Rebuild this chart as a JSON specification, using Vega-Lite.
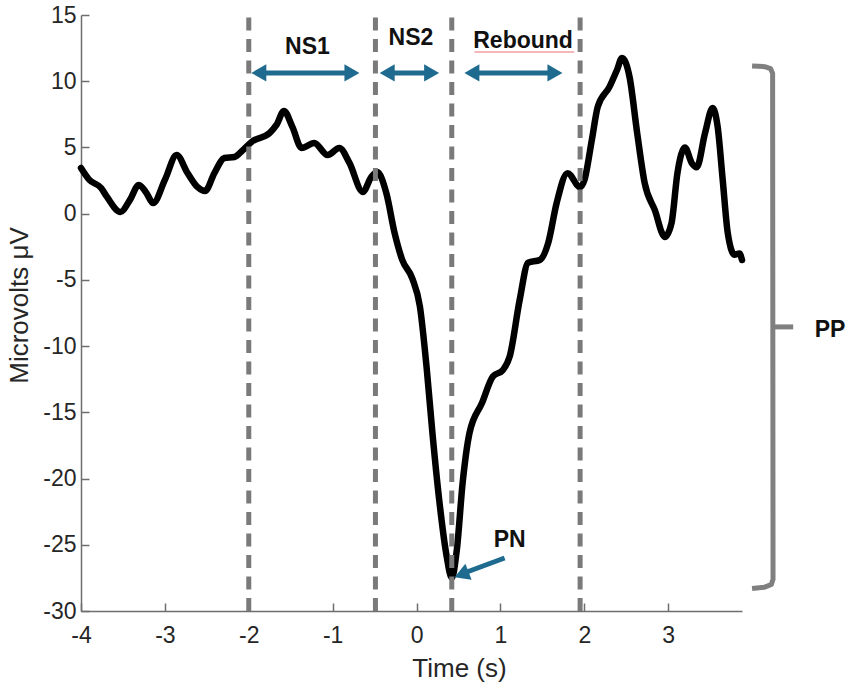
{
  "$schema": "https://vega.github.io/schema/vega-lite/v6.json",
  "width": 661,
  "height": 596,
  "autosize": "none",
  "padding": {"left": 81, "top": 15, "right": 108, "bottom": 80},
  "background": "white",
  "config": {"view": {"stroke": null}, "font": "Liberation Sans"},
  "datasets": {
    "curve": [
      {"x": -4.0, "y": 3.45}, {"x": -3.9, "y": 2.55}, {"x": -3.76, "y": 1.94}, {"x": -3.69, "y": 1.26},
      {"x": -3.53, "y": 0.13}, {"x": -3.42, "y": 1.0}, {"x": -3.31, "y": 2.17}, {"x": -3.22, "y": 1.56},
      {"x": -3.14, "y": 0.8}, {"x": -3.0, "y": 2.55}, {"x": -2.86, "y": 4.43}, {"x": -2.73, "y": 3.07},
      {"x": -2.61, "y": 2.0}, {"x": -2.52, "y": 1.71}, {"x": -2.41, "y": 3.07}, {"x": -2.29, "y": 4.2},
      {"x": -2.17, "y": 4.28}, {"x": -2.07, "y": 4.8}, {"x": -1.96, "y": 5.45}, {"x": -1.75, "y": 6.1},
      {"x": -1.67, "y": 6.7}, {"x": -1.58, "y": 7.75}, {"x": -1.48, "y": 6.55}, {"x": -1.37, "y": 4.96},
      {"x": -1.22, "y": 5.34}, {"x": -1.06, "y": 4.43}, {"x": -0.92, "y": 4.96}, {"x": -0.8, "y": 3.83},
      {"x": -0.64, "y": 1.64}, {"x": -0.54, "y": 2.77}, {"x": -0.47, "y": 3.15}, {"x": -0.36, "y": 1.55},
      {"x": -0.26, "y": -1.5}, {"x": -0.17, "y": -3.5}, {"x": -0.05, "y": -4.9}, {"x": 0.04, "y": -7.0},
      {"x": 0.12, "y": -11.6}, {"x": 0.19, "y": -16.6}, {"x": 0.27, "y": -21.6}, {"x": 0.36, "y": -25.9},
      {"x": 0.42, "y": -27.5}, {"x": 0.48, "y": -25.4}, {"x": 0.55, "y": -20.3}, {"x": 0.63, "y": -16.6},
      {"x": 0.78, "y": -14.3}, {"x": 0.91, "y": -12.3}, {"x": 1.03, "y": -11.8}, {"x": 1.11, "y": -10.8},
      {"x": 1.23, "y": -6.5}, {"x": 1.33, "y": -3.7}, {"x": 1.47, "y": -3.5}, {"x": 1.57, "y": -2.2},
      {"x": 1.67, "y": 0.8}, {"x": 1.8, "y": 3.06}, {"x": 1.95, "y": 2.0}, {"x": 2.0, "y": 2.5},
      {"x": 2.09, "y": 5.57}, {"x": 2.16, "y": 8.06}, {"x": 2.3, "y": 9.57}, {"x": 2.39, "y": 10.85},
      {"x": 2.45, "y": 11.76}, {"x": 2.54, "y": 10.3}, {"x": 2.63, "y": 6.1}, {"x": 2.72, "y": 2.3},
      {"x": 2.84, "y": 0.28}, {"x": 2.96, "y": -1.76}, {"x": 3.04, "y": -0.7}, {"x": 3.11, "y": 3.06},
      {"x": 3.2, "y": 5.0}, {"x": 3.28, "y": 3.83}, {"x": 3.34, "y": 3.5}, {"x": 3.44, "y": 6.1},
      {"x": 3.53, "y": 7.98}, {"x": 3.59, "y": 6.55}, {"x": 3.65, "y": 2.55}, {"x": 3.71, "y": -1.45},
      {"x": 3.79, "y": -3.1}, {"x": 3.85, "y": -3.0}, {"x": 3.88, "y": -3.5}
    ],
    "vlines": [
      {"x": -2.0, "y": -30, "y2": 15.4},
      {"x": -0.49, "y": -30, "y2": 15.4},
      {"x": 0.42, "y": -30, "y2": 15.4},
      {"x": 1.95, "y": -30, "y2": 15.4}
    ],
    "shafts": [
      {"x": -1.89, "x2": -0.76, "y": 10.63, "y2": 10.63},
      {"x": -0.36, "x2": 0.19, "y": 10.63, "y2": 10.63},
      {"x": 0.65, "x2": 1.66, "y": 10.63, "y2": 10.63},
      {"x": 1.05, "x2": 0.56, "y": -26.0, "y2": -27.15}
    ],
    "heads": [
      {"x": -1.88, "y": 10.63, "angle": 180},
      {"x": -0.77, "y": 10.63, "angle": 0},
      {"x": -0.35, "y": 10.63, "angle": 180},
      {"x": 0.18, "y": 10.63, "angle": 0},
      {"x": 0.66, "y": 10.63, "angle": 180},
      {"x": 1.65, "y": 10.63, "angle": 0},
      {"x": 0.536, "y": -27.24, "angle": 159}
    ],
    "bracket": [
      {"x": 4.0, "y": 11.15, "seg": "main", "o": 1},
      {"x": 4.15, "y": 11.1, "seg": "main", "o": 2},
      {"x": 4.22, "y": 10.95, "seg": "main", "o": 3},
      {"x": 4.245, "y": 10.6, "seg": "main", "o": 4},
      {"x": 4.25, "y": -27.6, "seg": "main", "o": 5},
      {"x": 4.23, "y": -28.0, "seg": "main", "o": 6},
      {"x": 4.15, "y": -28.2, "seg": "main", "o": 7},
      {"x": 4.0, "y": -28.3, "seg": "main", "o": 8},
      {"x": 4.25, "y": -8.55, "seg": "tick", "o": 1},
      {"x": 4.49, "y": -8.55, "seg": "tick", "o": 2}
    ],
    "labels": [
      {"x": -1.3, "y": 12.6, "text": "NS1"},
      {"x": -0.066, "y": 13.3, "text": "NS2"},
      {"x": 1.27, "y": 13.0, "text": "Rebound"},
      {"x": 1.11, "y": -24.65, "text": "PN"},
      {"x": 4.93, "y": -8.78, "text": "PP"}
    ],
    "underline": [
      {"x": 0.69, "x2": 1.88, "y": 12.2}
    ]
  },
  "encoding": {
    "x": {
      "field": "x", "type": "quantitative",
      "scale": {"domain": [-4, 3.88], "nice": false, "zero": false},
      "axis": {
        "title": "Time (s)", "values": [-4, -3, -2, -1, 0, 1, 2, 3],
        "labelExpr": "datum.value < 0 ? '-' + abs(datum.value) : '' + datum.value",
        "labelFlush": false, "labelOverlap": false,
        "grid": false, "domainColor": "#6e6e6e", "domainWidth": 1.5,
        "tickColor": "#6e6e6e", "tickWidth": 1.5, "tickSize": -8,
        "labelFontSize": 23, "labelColor": "#262626", "labelPadding": 21,
        "titleFontSize": 26, "titleFontWeight": "normal", "titleColor": "#262626",
        "titleX": 378, "titleY": 57, "titleBaseline": "middle", "titleAlign": "center"
      }
    },
    "y": {
      "field": "y", "type": "quantitative",
      "scale": {"domain": [-30, 15], "nice": false, "zero": false},
      "axis": {
        "title": "Microvolts μV", "values": [-30, -25, -20, -15, -10, -5, 0, 5, 10, 15],
        "labelExpr": "datum.value < 0 ? '-' + abs(datum.value) : '' + datum.value",
        "labelFlush": false, "labelOverlap": false,
        "grid": false, "domainColor": "#6e6e6e", "domainWidth": 1.5,
        "tickColor": "#6e6e6e", "tickWidth": 1.5, "tickSize": -8,
        "labelFontSize": 23, "labelColor": "#262626", "labelPadding": 13,
        "titleFontSize": 26, "titleFontWeight": "normal", "titleColor": "#262626",
        "titleX": -62, "titleY": 290, "titleBaseline": "middle", "titleAlign": "center", "titleAngle": -90
      }
    }
  },
  "layer": [
    {
      "data": {"name": "curve"},
      "mark": {"type": "line", "color": "black", "strokeWidth": 6.5, "interpolate": "monotone", "strokeCap": "round", "strokeJoin": "round"},
      "encoding": {}
    },
    {
      "data": {"name": "vlines"},
      "mark": {"type": "rule", "color": "#7a7a7a", "strokeWidth": 5, "strokeDash": [13, 8.5]},
      "encoding": {"y2": {"field": "y2"}}
    },
    {
      "data": {"name": "underline"},
      "mark": {"type": "rule", "color": "#f2a0a0", "strokeWidth": 1.5},
      "encoding": {"x2": {"field": "x2"}}
    },
    {
      "data": {"name": "shafts"},
      "mark": {"type": "rule", "color": "#1f6b8f", "strokeWidth": 5},
      "encoding": {"x2": {"field": "x2"}, "y2": {"field": "y2"}}
    },
    {
      "data": {"name": "heads"},
      "mark": {"type": "point", "shape": "triangle-right", "filled": true, "color": "#1f6b8f", "size": 300, "opacity": 1},
      "encoding": {"angle": {"field": "angle", "type": "quantitative", "scale": null}}
    },
    {
      "data": {"name": "bracket"},
      "mark": {"type": "line", "color": "#808080", "strokeWidth": 5, "interpolate": "linear", "strokeJoin": "round"},
      "encoding": {"detail": {"field": "seg"}, "order": {"field": "o", "type": "quantitative"}}
    },
    {
      "data": {"name": "labels"},
      "mark": {"type": "text", "fontSize": 23, "fontWeight": "bold", "color": "#111111", "align": "center", "baseline": "middle"},
      "encoding": {"text": {"field": "text"}}
    }
  ]
}
